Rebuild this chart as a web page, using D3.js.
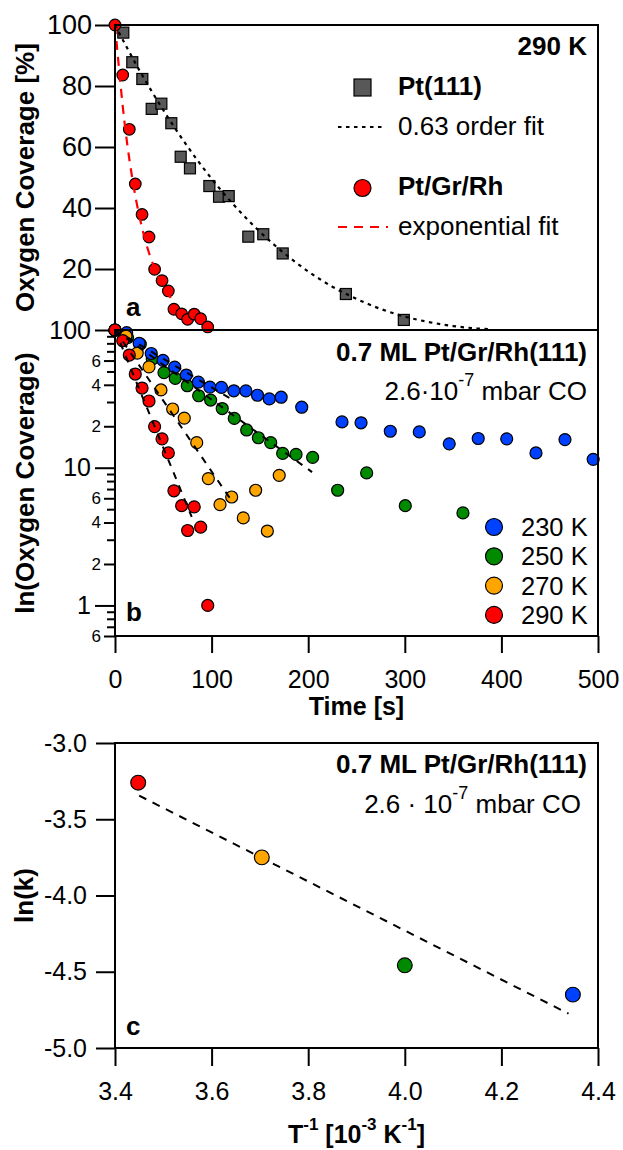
<!DOCTYPE html>
<html><head><meta charset="utf-8">
<script src="https://cdn.jsdelivr.net/npm/d3@7"></script>
<style>
body{margin:0;background:#fff}
svg{display:block}
text{font-family:"Liberation Sans",Arial,Helvetica,sans-serif;fill:#000}
</style>
</head><body>
<svg id="chart" width="623" height="1150"></svg>
<script>
// ---------- tick values ----------
const timeTicks = [0, 100, 200, 300, 400, 500];
const covTicks = [20, 40, 60, 80, 100];
const logMajorTicks = [1, 10, 100];
const logLabeledMinor = [0.6, 2, 4, 6, 20, 40, 60];
const logMinor = [0.7, 0.8, 0.9, 3, 5, 7, 8, 9, 30, 50, 70, 80, 90];
const invTTicks = [3.4, 3.6, 3.8, 4.0, 4.2, 4.4];
const lnkTicks = [-5, -4.5, -4, -3.5, -3];

// ---------- panel a: Pt(111) ----------
const ptTime = [8.6, 17.9, 28.3, 38, 48, 58.3, 68, 77.6, 97.7, 107.7, 117.7, 138, 153.5, 173.6, 239, 299];
const ptCov  = [97.5, 87.8, 82.3, 72.5, 74.2, 67.8, 56.8, 53, 47.2, 43.7, 43.9, 30.6, 31.4, 25.1, 11.8, 3.3];
const ptFitTime = [0, 25, 50, 75, 100, 125, 150, 175, 200, 225, 250, 275, 300, 325, 350, 375, 390];
const ptFitCov  = [100, 85.3, 72.1, 60.2, 49.6, 40.3, 32.2, 25.2, 19.2, 14.2, 10.2, 6.9, 4.4, 2.6, 1.3, 0.5, 0.2];

// ---------- Pt/Gr/Rh series ----------
const t290 = [0, 8, 14.8, 21, 28, 35.2, 41, 48.7, 55.2, 61, 69, 75.2, 82, 88.7, 96];
const v290 = [100, 83.6, 65.8, 47.9, 37.9, 30.5, 19.9, 16.2, 12.8, 6.8, 5.3, 3.5, 5.2, 3.7, 1.0];
const rhFitTime = [0, 10, 20, 30, 40, 50, 59];
const rhFitCov  = [100, 67.7, 45.8, 31.0, 21.0, 14.2, 10.0];

const t230 = [0, 12.1, 25, 37.5, 49.7, 61.8, 73.8, 86.3, 98.2, 110.2, 123, 135.5, 147.5, 159.7, 172, 193.3, 235, 254.7, 285, 315, 346, 376, 405.5, 435.8, 465.8, 495];
const v230 = [100, 95.6, 80, 67.5, 60.2, 53.8, 47.1, 41.8, 38.5, 38.3, 36.2, 36.1, 33.6, 31.6, 32.5, 27.5, 21.5, 21.2, 18.4, 18.2, 14.9, 16.3, 16.2, 12.8, 16, 11.5];
const t250 = [0, 13, 26.2, 38.6, 50.7, 62.4, 74.8, 86.6, 99, 111, 123.5, 136.3, 148.4, 161.2, 173.6, 187.4, 204.6, 230.5, 260.5, 300.5, 360.2];
const v250 = [100, 88, 79, 61.5, 49, 44.5, 39.4, 33.3, 31, 26.9, 22.8, 18.8, 16.5, 15.2, 12.7, 12.5, 11.9, 6.86, 9.17, 5.3, 4.7];
const t270 = [0, 11.4, 23, 35.2, 47.6, 59.7, 71.7, 84.6, 96.6, 108.7, 120.8, 132.8, 145.6, 157.7, 170];
const v270 = [100, 90.4, 68, 54, 36.7, 26.7, 22.9, 15.2, 8.34, 5.4, 6.13, 4.32, 6.86, 3.47, 8.8];

const tempLabels = ["230 K", "250 K", "270 K", "290 K"];
const tempColors = ["#0040ff", "#008a00", "#ffa500", "#ff0000"];
const fitStartTime = [0, 0, 0, 0];
const fitStartCov = [100, 100, 100, 100];
const fitEndTime = [122, 204, 119, 79.4];
const fitEndCov = [31, 9.3, 6.0, 4.4];

// ---------- panel c: Arrhenius ----------
const invT = [4.348, 4.0, 3.704, 3.448];
const lnk  = [-4.65, -4.458, -3.75, -3.26];
const arrFitInvT = [3.45, 4.339];
const arrFitLnk  = [-3.345, -4.775];

// ---------- layout ----------
const L = 115, R = 598;
const aTop = 25, aBot = 330, bTop = 330, bBot = 636, cTop = 743, cBot = 1048;
const FS = 25, FS_A = 27, FS_SMALL = 17, FS_T = 26;

const svg = d3.select("#chart");
const x = d3.scaleLinear().domain([0, 500]).range([L, R]);
const ya = d3.scaleLinear().domain([0, 100]).range([aBot, aTop]);
const yb = d3.scaleLog().domain([0.6, 100]).range([bBot, bTop]);
const xc = d3.scaleLinear().domain([3.4, 4.4]).range([L, R]);
const yc = d3.scaleLinear().domain([-5, -3]).range([cBot, cTop]);

function styleAxis(g, fs) {
  g.select(".domain").remove();
  g.selectAll("line").attr("stroke", "#000").attr("stroke-width", 2);
  g.selectAll("text").attr("font-size", fs).attr("fill", "#000")
    .style("font-family", '"Liberation Sans",Arial,sans-serif');
}

// ---------- panel a ----------
const ga = svg.append("g");
ga.append("g").attr("transform", `translate(${L},0)`)
  .call(d3.axisLeft(ya).tickValues(covTicks).tickSize(20).tickPadding(3).tickFormat(d3.format("d")))
  .call(g => styleAxis(g, FS_A));

const lineA = d3.line().x(d => x(d[0])).y(d => ya(d[1])).curve(d3.curveMonotoneX);

ga.selectAll("rect.pt").data(ptTime.map((t, i) => [t, ptCov[i]])).join("rect")
  .attr("x", d => x(d[0]) - 5.5).attr("y", d => ya(d[1]) - 5.5)
  .attr("width", 11).attr("height", 11)
  .attr("fill", "#585858").attr("stroke", "#000").attr("stroke-width", 1.2);

ga.selectAll("circle.rh").data(t290.map((t, i) => [t, v290[i]])).join("circle")
  .attr("cx", d => x(d[0])).attr("cy", d => ya(d[1])).attr("r", 5.8)
  .attr("fill", "#ff0000").attr("stroke", "#000").attr("stroke-width", 1.2);

ga.append("path").datum(ptFitTime.map((t, i) => [t, ptFitCov[i]]))
  .attr("d", lineA).attr("fill", "none").attr("stroke", "#000")
  .attr("stroke-width", 2.2).attr("stroke-dasharray", "3.5,4.5");
ga.append("path").datum(rhFitTime.map((t, i) => [t, rhFitCov[i]]))
  .attr("d", lineA).attr("fill", "none").attr("stroke", "#ff0000")
  .attr("stroke-width", 2.2).attr("stroke-dasharray", "9,7");

ga.append("rect").attr("x", L).attr("y", aTop).attr("width", R - L).attr("height", aBot - aTop)
  .attr("fill", "none").attr("stroke", "#000").attr("stroke-width", 2);

ga.append("text").attr("x", 587).attr("y", 55).attr("text-anchor", "end")
  .attr("font-size", FS_T).attr("font-weight", "bold").text("290 K");
// legend a
ga.append("rect").attr("x", 354).attr("y", 79).attr("width", 17).attr("height", 17)
  .attr("fill", "#585858").attr("stroke", "#000").attr("stroke-width", 1.2);
ga.append("text").attr("x", 398).attr("y", 95).attr("font-size", FS_T).attr("font-weight", "bold").text("Pt(111)");
ga.append("line").attr("x1", 338).attr("x2", 384).attr("y1", 127).attr("y2", 127)
  .attr("stroke", "#000").attr("stroke-width", 2.2).attr("stroke-dasharray", "3.5,4.5");
ga.append("text").attr("x", 398).attr("y", 135).attr("font-size", FS_T).text("0.63 order fit");
ga.append("circle").attr("cx", 362.5).attr("cy", 188).attr("r", 8.5)
  .attr("fill", "#ff0000").attr("stroke", "#000").attr("stroke-width", 1.2);
ga.append("text").attr("x", 398).attr("y", 195).attr("font-size", FS_T).attr("font-weight", "bold").text("Pt/Gr/Rh");
ga.append("line").attr("x1", 338).attr("x2", 388).attr("y1", 227).attr("y2", 227)
  .attr("stroke", "#ff0000").attr("stroke-width", 2.2).attr("stroke-dasharray", "9,7");
ga.append("text").attr("x", 398).attr("y", 235).attr("font-size", FS_T).text("exponential fit");
ga.append("text").attr("x", 126).attr("y", 316).attr("font-size", FS_T).attr("font-weight", "bold").text("a");

ga.append("text").attr("transform", `translate(34,${(aTop + aBot) / 2}) rotate(-90)`)
  .attr("text-anchor", "middle").attr("font-size", 26).attr("font-weight", "bold")
  .text("Oxygen Coverage [%]");

// ---------- panel b ----------
const gb = svg.append("g");
gb.append("g").attr("transform", `translate(${L},0)`)
  .call(d3.axisLeft(yb).tickValues(logMinor).tickSize(8).tickFormat(""))
  .call(g => styleAxis(g, FS_SMALL));
gb.append("g").attr("transform", `translate(${L},0)`)
  .call(d3.axisLeft(yb).tickValues(logLabeledMinor).tickSize(11).tickPadding(3)
    .tickFormat(d => String(d < 1 ? Math.round(d * 10) : d >= 10 ? d / 10 : d)))
  .call(g => styleAxis(g, FS_SMALL));
gb.append("g").attr("transform", `translate(${L},0)`)
  .call(d3.axisLeft(yb).tickValues(logMajorTicks).tickSize(20).tickPadding(4).tickFormat(d3.format("d")))
  .call(g => styleAxis(g, FS));
gb.append("g").attr("transform", `translate(0,${bBot})`)
  .call(d3.axisBottom(x).tickValues(timeTicks).tickSize(17).tickFormat(d3.format("d")))
  .call(g => { styleAxis(g, FS); g.selectAll("text").attr("y", 52).attr("dy", 0); });

const series = [[t230, v230], [t250, v250], [t270, v270], [t290, v290]];
const drawOrder = [1, 0, 2, 3];
drawOrder.forEach(si => {
  const [ts, vs] = series[si];
  gb.append("g").selectAll("circle").data(ts.map((t, i) => [t, vs[i]])).join("circle")
    .attr("cx", d => x(d[0])).attr("cy", d => yb(d[1])).attr("r", 6)
    .attr("fill", tempColors[si]).attr("stroke", "#000").attr("stroke-width", 1.2);
});
const lineB = d3.line().x(d => x(d[0])).y(d => yb(d[1]));
tempLabels.forEach((lab, i) => {
  gb.append("path").datum([[fitStartTime[i], fitStartCov[i]], [fitEndTime[i], fitEndCov[i]]])
    .attr("d", lineB).attr("fill", "none").attr("stroke", "#000")
    .attr("stroke-width", 2).attr("stroke-dasharray", "7,7");
});

gb.append("rect").attr("x", L).attr("y", bTop).attr("width", R - L).attr("height", bBot - bTop)
  .attr("fill", "none").attr("stroke", "#000").attr("stroke-width", 2);

gb.append("text").attr("x", 587).attr("y", 361).attr("text-anchor", "end")
  .attr("font-size", FS_T).attr("font-weight", "bold").text("0.7 ML Pt/Gr/Rh(111)");
const tb = gb.append("text").attr("x", 587).attr("y", 400).attr("text-anchor", "end").attr("font-size", FS_T);
tb.append("tspan").text("2.6·10");
tb.append("tspan").attr("font-size", 18).attr("dy", -14).text("-7");
tb.append("tspan").attr("dy", 14).text(" mbar CO");

tempLabels.forEach((lab, i) => {
  const cy = 527 + i * 29.3;
  gb.append("circle").attr("cx", 494).attr("cy", cy).attr("r", 8.5)
    .attr("fill", tempColors[i]).attr("stroke", "#000").attr("stroke-width", 1.2);
  gb.append("text").attr("x", 521).attr("y", cy + 9).attr("font-size", 25.5).text(lab);
});
gb.append("text").attr("x", 126).attr("y", 621).attr("font-size", FS_T).attr("font-weight", "bold").text("b");

gb.append("text").attr("transform", `translate(34,${(bTop + bBot) / 2}) rotate(-90)`)
  .attr("text-anchor", "middle").attr("font-size", 26).attr("font-weight", "bold")
  .text("ln(Oxygen Coverage)");
gb.append("text").attr("x", (L + R) / 2).attr("y", 715).attr("text-anchor", "middle")
  .attr("font-size", 25).attr("font-weight", "bold").text("Time [s]");

// ---------- panel c ----------
const gc = svg.append("g");
gc.append("g").attr("transform", `translate(${L},0)`)
  .call(d3.axisLeft(yc).tickValues(lnkTicks).tickSize(19).tickPadding(9).tickFormat(d => d.toFixed(1)))
  .call(g => styleAxis(g, FS));
gc.append("g").attr("transform", `translate(0,${cBot})`)
  .call(d3.axisBottom(xc).tickValues(invTTicks).tickSize(18).tickFormat(d => d.toFixed(1)))
  .call(g => { styleAxis(g, FS); g.selectAll("text").attr("y", 52).attr("dy", 0); });

gc.append("path").datum(arrFitInvT.map((v, i) => [v, arrFitLnk[i]]))
  .attr("d", d3.line().x(d => xc(d[0])).y(d => yc(d[1])))
  .attr("fill", "none").attr("stroke", "#000").attr("stroke-width", 2).attr("stroke-dasharray", "8,7");
gc.selectAll("circle.k").data(invT.map((v, i) => [v, lnk[i], tempColors[i]])).join("circle")
  .attr("cx", d => xc(d[0])).attr("cy", d => yc(d[1])).attr("r", 7.4)
  .attr("fill", d => d[2]).attr("stroke", "#000").attr("stroke-width", 1.2);

gc.append("rect").attr("x", L).attr("y", cTop).attr("width", R - L).attr("height", cBot - cTop)
  .attr("fill", "none").attr("stroke", "#000").attr("stroke-width", 2);

gc.append("text").attr("x", 587).attr("y", 773).attr("text-anchor", "end")
  .attr("font-size", FS_T).attr("font-weight", "bold").text("0.7 ML Pt/Gr/Rh(111)");
const tc = gc.append("text").attr("x", 581).attr("y", 813).attr("text-anchor", "end").attr("font-size", FS_T);
tc.append("tspan").text("2.6 · 10");
tc.append("tspan").attr("font-size", 18).attr("dy", -14).text("-7");
tc.append("tspan").attr("dy", 14).text(" mbar CO");
gc.append("text").attr("x", 126).attr("y", 1035).attr("font-size", FS_T).attr("font-weight", "bold").text("c");

gc.append("text").attr("transform", `translate(33,${(cTop + cBot) / 2}) rotate(-90)`)
  .attr("text-anchor", "middle").attr("font-size", 26).attr("font-weight", "bold").text("ln(k)");
const tt = gc.append("text").attr("x", (L + R) / 2).attr("y", 1143).attr("text-anchor", "middle")
  .attr("font-size", 25).attr("font-weight", "bold");
tt.append("tspan").text("T");
tt.append("tspan").attr("font-size", 17).attr("dy", -13).text("-1");
tt.append("tspan").attr("dy", 13).text(" [10");
tt.append("tspan").attr("font-size", 17).attr("dy", -13).text("-3");
tt.append("tspan").attr("dy", 13).text(" K");
tt.append("tspan").attr("font-size", 17).attr("dy", -13).text("-1");
tt.append("tspan").attr("dy", 13).text("]");
</script>
</body></html>
